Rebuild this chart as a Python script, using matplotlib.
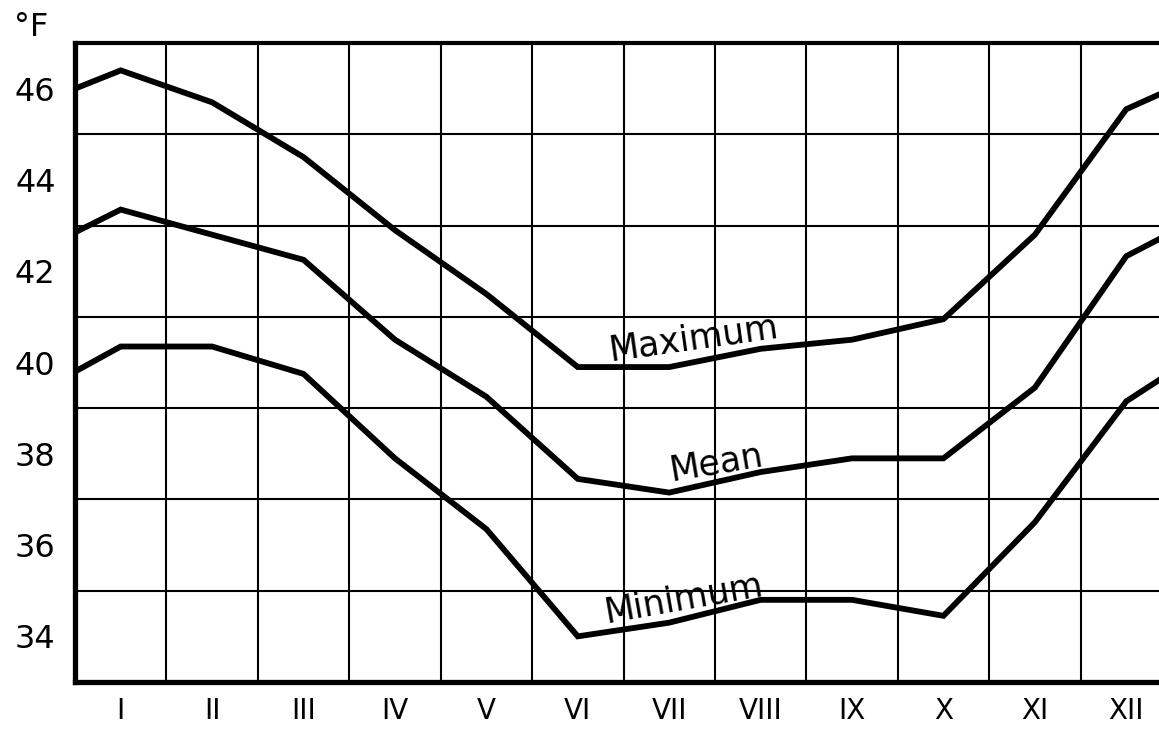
import matplotlib.pyplot as plt

months = ["I", "II", "III", "IV", "V", "VI", "VII", "VIII", "IX", "X", "XI", "XII"]

# monthly air temperature, deg F
t_max = [46.4, 45.7, 44.5, 42.9, 41.5, 39.9, 39.9, 40.3, 40.5, 40.95, 42.8, 45.55]
t_mean = [43.35, 42.8, 42.25, 40.5, 39.25, 37.45, 37.15, 37.6, 37.9, 37.9, 39.45, 42.33]
t_min = [40.35, 40.35, 39.75, 37.9, 36.35, 34.0, 34.3, 34.8, 34.8, 34.45, 36.5, 39.15]

# value at the Dec/Jan boundary, shown at both ends of the year
edge_max = 46.0
edge_mean = 42.85
edge_min = 39.8

y_labels = [34, 36, 38, 40, 42, 44, 46]

plt.rcParams["font.family"] = ["DejaVu Sans"]

fig = plt.figure(figsize=(11.59, 7.30), dpi=100)
# the frame runs past the right edge of the sheet, as on the original plate
ax = fig.add_axes([75 / 1159, 48 / 730, 1097 / 1159, 639 / 730])

xs = [0] + [i + 0.5 for i in range(12)] + [12]
for edge, vals in [(edge_max, t_max), (edge_mean, t_mean), (edge_min, t_min)]:
    ax.plot(xs, [edge] + vals + [edge], color="black", lw=4.2,
            solid_joinstyle="miter", zorder=3)

ax.set_xlim(0, 12)
ax.set_ylim(33, 47)

# grid: one cell per month and per degree
ax.set_xticks(range(13), minor=True)
ax.set_yticks(range(33, 48), minor=True)
ax.grid(which="minor", color="black", lw=1.5)
ax.set_xticks([i + 0.5 for i in range(12)], months)
ax.set_yticks(y_labels, [str(v) for v in y_labels])
ax.tick_params(which="both", length=0)
ax.tick_params(axis="x", labelsize=20, pad=11)
ax.tick_params(axis="y", labelsize=23, pad=14)

for side in ["left", "bottom"]:
    ax.spines[side].set_linewidth(3.8)
ax.spines["top"].set_linewidth(3.0)
ax.spines["right"].set_linewidth(3.0)

fig.text(14 / 1159, 1 - 12 / 730, "°F", fontsize=23, va="top", ha="left")

# curve names written along the lines
ax.text(6.77, 40.52, "Maximum", fontsize=25, rotation=8,
        ha="center", va="center", rotation_mode="anchor")
ax.text(7.02, 37.8, "Mean", fontsize=25, rotation=9.5,
        ha="center", va="center", rotation_mode="anchor")
ax.text(6.66, 34.82, "Minimum", fontsize=25, rotation=10,
        ha="center", va="center", rotation_mode="anchor")

fig.savefig("out.png", dpi=100)
